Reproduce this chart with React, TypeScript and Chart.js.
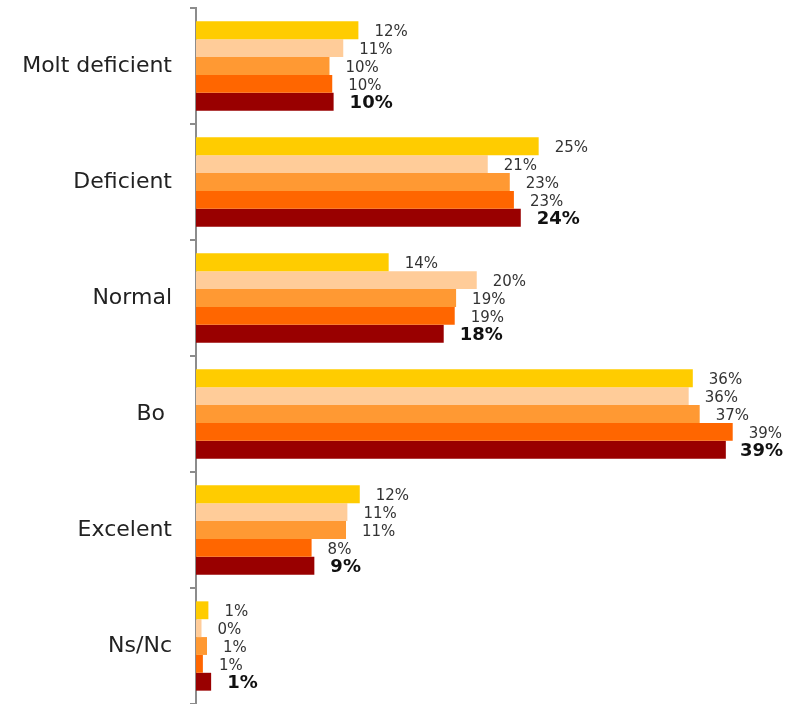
import React, { useEffect, useRef } from "react";
import { Chart, registerables } from "chart.js";

Chart.register(...registerables);

const categories = ["Molt deficient", "Deficient", "Normal", "Bo ", "Excelent", "Ns/Nc"];
const seriesNames = ["Sèrie 1", "Sèrie 2", "Sèrie 3", "Sèrie 4", "Sèrie 5"];
const series1 = [11.8, 24.9, 14.0, 36.1, 11.9, 0.9];
const series2 = [10.7, 21.2, 20.4, 35.8, 11.0, 0.4];
const series3 = [9.7, 22.8, 18.9, 36.6, 10.9, 0.8];
const series4 = [9.9, 23.1, 18.8, 39.0, 8.4, 0.5];
const series5 = [10.0, 23.6, 18.0, 38.5, 8.6, 1.1];
const colors = ["#FFCC00", "#FFCC99", "#FF9933", "#FF6600", "#990000"];

const FONT = "'DejaVu Sans', sans-serif";

const valueLabels = {
  id: "valueLabels",
  afterDatasetsDraw(chart: any) {
    const ctx = chart.ctx;
    ctx.save();
    ctx.textBaseline = "middle";
    ctx.textAlign = "left";
    chart.data.datasets.forEach((ds: any, di: number) => {
      const meta = chart.getDatasetMeta(di);
      const last = di === chart.data.datasets.length - 1;
      ctx.font = last ? `bold 18px ${FONT}` : `15px ${FONT}`;
      ctx.fillStyle = last ? "#111" : "#333";
      meta.data.forEach((bar: any, i: number) => {
        const txt = Math.round(ds.data[i]) + "%";
        const w = ctx.measureText(txt).width;
        let x = bar.x + 16;
        if (x + w > chart.width - 3) x = chart.width - 3 - w;
        ctx.fillText(txt, x, bar.y + 2);
      });
    });
    ctx.restore();
  },
};

export default function App() {
  const ref = useRef<HTMLCanvasElement>(null);
  useEffect(() => {
    const data = [series1, series2, series3, series4, series5];
    const chart = new Chart(ref.current!, {
      type: "bar",
      data: {
        labels: categories,
        datasets: data.map((d, i) => ({
          label: seriesNames[i],
          data: d,
          backgroundColor: colors[i],
          borderWidth: 0,
          categoryPercentage: 0.77,
          barPercentage: 1.0,
        })),
      },
      options: {
        indexAxis: "y",
        animation: false,
        responsive: false,
        maintainAspectRatio: false,
        layout: { padding: { top: 8, bottom: 0, left: 0, right: 12 } },
        plugins: { legend: { display: false }, tooltip: { enabled: false } },
        scales: {
          x: { display: false, min: 0, max: 42 },
          y: {
            afterFit: (s: any) => {
              s.width = 196;
              s.paddingTop = 0;
              s.paddingBottom = 0;
            },
            border: { display: true, color: "#8c8c8c", width: 2 },
            grid: {
              offset: true,
              drawOnChartArea: false,
              drawTicks: true,
              tickLength: 6,
              color: "#8c8c8c",
              lineWidth: 2,
            },
            ticks: {
              padding: 18,
              color: "#222",
              font: { family: FONT, size: 22 },
            },
          },
        },
      },
      plugins: [valueLabels],
    });
    return () => chart.destroy();
  }, []);
  return (
    <div style={{ position: "absolute", left: 0, top: 0, width: 786, height: 704, background: "#fff" }}>
      <canvas ref={ref} width={786} height={704} />
    </div>
  );
}
